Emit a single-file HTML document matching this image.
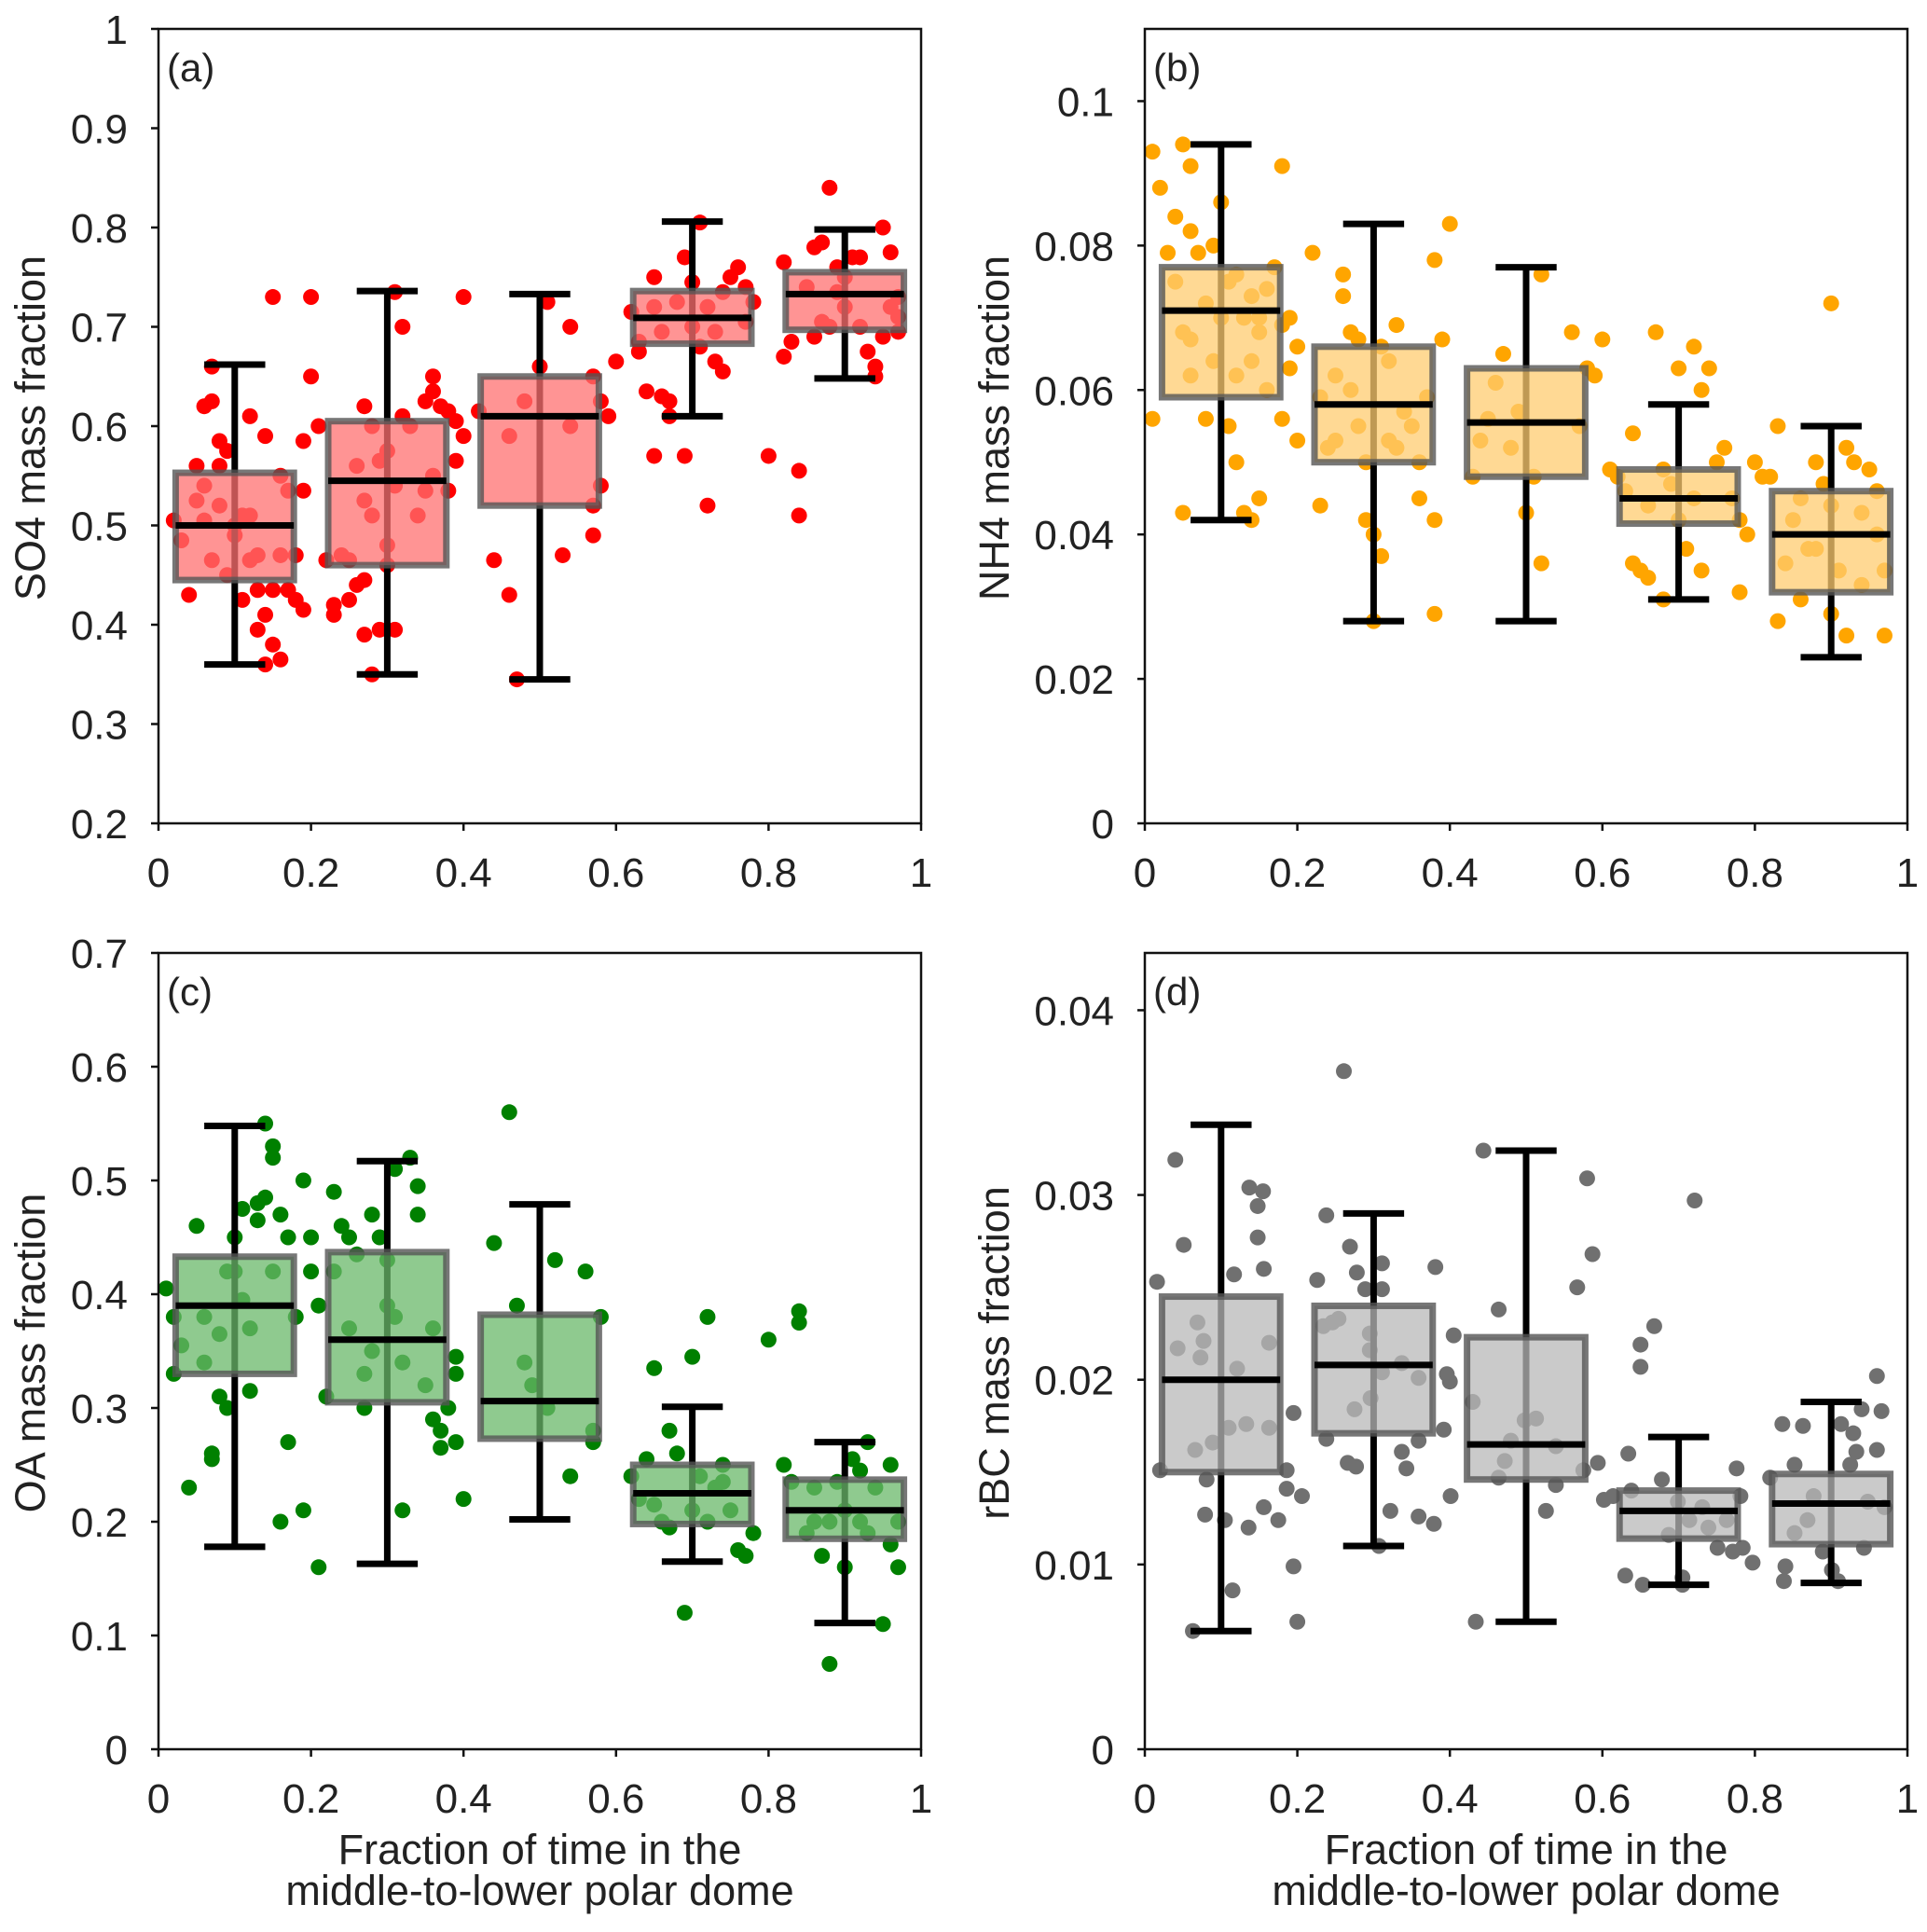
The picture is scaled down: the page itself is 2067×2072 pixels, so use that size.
<!DOCTYPE html>
<html><head><meta charset="utf-8"><style>
html,body{margin:0;padding:0;background:#fff}
svg{display:block;font-family:"Liberation Sans",Arial,sans-serif}
</style></head><body>
<svg id="fig" width="2067" height="2072" viewBox="0 0 2067 2072" xmlns="http://www.w3.org/2000/svg"></svg>
<script>
const xTicks=[0,0.2,0.4,0.6,0.8,1];
const xTickLabels=["0","0.2","0.4","0.6","0.8","1"];
const centers=[0.1,0.3,0.5,0.7,0.9];
// box stats: [q1, median, q3, whiskerLow, whiskerHigh]
const statsA=[[0.445,0.5,0.553,0.36,0.662],[0.46,0.545,0.605,0.35,0.736],[0.52,0.61,0.65,0.345,0.733],[0.683,0.709,0.736,0.61,0.806],[0.697,0.733,0.755,0.648,0.798]];
const statsB=[[0.059,0.071,0.077,0.042,0.094],[0.050,0.058,0.066,0.028,0.083],[0.048,0.0555,0.063,0.028,0.077],[0.0415,0.045,0.049,0.031,0.058],[0.032,0.040,0.046,0.023,0.055]];
const statsC=[[0.33,0.39,0.433,0.178,0.548],[0.305,0.36,0.437,0.163,0.517],[0.273,0.306,0.382,0.202,0.479],[0.198,0.225,0.25,0.165,0.301],[0.185,0.21,0.237,0.111,0.27]];
const statsD=[[0.015,0.020,0.0245,0.0064,0.0338],[0.0171,0.0208,0.024,0.011,0.029],[0.0146,0.0165,0.0223,0.0069,0.0324],[0.0114,0.0129,0.014,0.0089,0.0169],[0.0111,0.0133,0.0149,0.009,0.0188]];
const pointsA=[[0.02,0.505],[0.03,0.485],[0.04,0.43],[0.05,0.56],[0.06,0.62],[0.07,0.625],[0.07,0.66],[0.08,0.585],[0.09,0.575],[0.08,0.52],[0.06,0.54],[0.1,0.49],[0.09,0.45],[0.11,0.425],[0.12,0.61],[0.12,0.51],[0.13,0.435],[0.13,0.395],[0.14,0.41],[0.15,0.38],[0.14,0.36],[0.16,0.365],[0.15,0.435],[0.17,0.435],[0.14,0.59],[0.16,0.55],[0.17,0.535],[0.18,0.47],[0.19,0.585],[0.2,0.65],[0.21,0.6],[0.18,0.425],[0.19,0.415],[0.15,0.73],[0.2,0.73],[0.12,0.465],[0.1,0.5],[0.07,0.465],[0.19,0.535],[0.16,0.47],[0.13,0.47],[0.11,0.51],[0.05,0.525],[0.06,0.505],[0.08,0.56],
[0.22,0.465],[0.23,0.42],[0.23,0.41],[0.24,0.47],[0.25,0.465],[0.25,0.425],[0.26,0.44],[0.27,0.445],[0.27,0.39],[0.28,0.35],[0.29,0.395],[0.31,0.395],[0.27,0.62],[0.28,0.6],[0.29,0.565],[0.3,0.575],[0.27,0.525],[0.28,0.51],[0.3,0.48],[0.31,0.54],[0.32,0.61],[0.33,0.6],[0.34,0.51],[0.32,0.7],[0.31,0.735],[0.35,0.625],[0.36,0.65],[0.36,0.635],[0.37,0.62],[0.38,0.615],[0.39,0.605],[0.4,0.59],[0.39,0.565],[0.38,0.535],[0.36,0.55],[0.35,0.535],[0.4,0.73],[0.26,0.56],[0.3,0.46],
[0.42,0.615],[0.44,0.465],[0.46,0.43],[0.46,0.59],[0.48,0.625],[0.47,0.345],[0.5,0.66],[0.51,0.725],[0.53,0.47],[0.54,0.7],[0.54,0.6],[0.57,0.65],[0.58,0.625],[0.59,0.61],[0.58,0.54],[0.57,0.52],[0.57,0.49],[0.6,0.665],
[0.62,0.715],[0.63,0.685],[0.63,0.675],[0.64,0.635],[0.65,0.75],[0.65,0.72],[0.66,0.63],[0.66,0.695],[0.67,0.61],[0.67,0.625],[0.65,0.57],[0.69,0.57],[0.68,0.725],[0.69,0.77],[0.7,0.745],[0.7,0.7],[0.71,0.805],[0.72,0.72],[0.72,0.52],[0.73,0.665],[0.74,0.655],[0.74,0.735],[0.75,0.75],[0.76,0.76],[0.77,0.74],[0.77,0.705],[0.78,0.725],[0.8,0.57],[0.73,0.695],[0.71,0.68],
[0.82,0.765],[0.82,0.67],[0.83,0.685],[0.84,0.555],[0.84,0.51],[0.85,0.74],[0.86,0.78],[0.87,0.785],[0.88,0.84],[0.89,0.76],[0.86,0.69],[0.87,0.705],[0.88,0.7],[0.9,0.72],[0.91,0.77],[0.92,0.77],[0.93,0.675],[0.94,0.65],[0.94,0.66],[0.95,0.8],[0.96,0.775],[0.96,0.72],[0.95,0.69],[0.97,0.695],[0.97,0.71],[0.97,0.73],[0.9,0.75],[0.92,0.7],[0.89,0.735]];
const pointsB=[[0.01,0.093],[0.02,0.088],[0.01,0.056],[0.03,0.079],[0.04,0.084],[0.04,0.075],[0.05,0.094],[0.06,0.091],[0.06,0.082],[0.07,0.079],[0.05,0.068],[0.06,0.067],[0.08,0.072],[0.09,0.08],[0.1,0.086],[0.11,0.075],[0.12,0.076],[0.13,0.07],[0.14,0.073],[0.15,0.07],[0.16,0.074],[0.14,0.064],[0.12,0.062],[0.15,0.068],[0.18,0.069],[0.19,0.07],[0.2,0.066],[0.19,0.063],[0.18,0.056],[0.16,0.06],[0.15,0.045],[0.13,0.043],[0.12,0.05],[0.11,0.055],[0.08,0.056],[0.05,0.043],[0.06,0.062],[0.09,0.064],[0.1,0.07],[0.17,0.077],[0.18,0.091],[0.2,0.053],[0.14,0.042],
[0.22,0.079],[0.23,0.059],[0.24,0.052],[0.25,0.062],[0.26,0.076],[0.26,0.073],[0.27,0.068],[0.28,0.067],[0.27,0.06],[0.28,0.055],[0.29,0.042],[0.3,0.04],[0.3,0.028],[0.31,0.037],[0.32,0.053],[0.32,0.064],[0.33,0.069],[0.34,0.057],[0.35,0.055],[0.36,0.05],[0.37,0.059],[0.36,0.045],[0.38,0.042],[0.38,0.078],[0.39,0.067],[0.4,0.083],[0.38,0.029],[0.23,0.044],[0.31,0.066],[0.33,0.052],[0.25,0.053],[0.29,0.05],
[0.43,0.048],[0.44,0.053],[0.45,0.056],[0.46,0.061],[0.47,0.065],[0.49,0.057],[0.5,0.043],[0.51,0.048],[0.52,0.076],[0.52,0.036],[0.56,0.068],[0.57,0.055],[0.58,0.063],[0.59,0.062],[0.6,0.067],[0.61,0.049],[0.48,0.052],
[0.62,0.048],[0.63,0.046],[0.64,0.054],[0.64,0.036],[0.65,0.035],[0.66,0.044],[0.66,0.034],[0.67,0.068],[0.68,0.031],[0.69,0.047],[0.7,0.063],[0.7,0.042],[0.71,0.038],[0.72,0.066],[0.73,0.06],[0.74,0.063],[0.73,0.035],[0.75,0.05],[0.76,0.052],[0.77,0.045],[0.78,0.042],[0.78,0.032],[0.79,0.04],[0.8,0.05],[0.81,0.048],[0.68,0.049],[0.72,0.045],
[0.82,0.048],[0.83,0.028],[0.83,0.055],[0.84,0.036],[0.85,0.042],[0.86,0.045],[0.86,0.031],[0.87,0.038],[0.88,0.05],[0.89,0.047],[0.9,0.044],[0.9,0.029],[0.91,0.035],[0.92,0.026],[0.93,0.05],[0.94,0.043],[0.94,0.033],[0.95,0.049],[0.96,0.04],[0.97,0.026],[0.97,0.035],[0.96,0.046],[0.92,0.052],[0.9,0.072],[0.88,0.038]];
const pointsC=[[0.01,0.405],[0.02,0.38],[0.02,0.33],[0.03,0.355],[0.04,0.23],[0.05,0.46],[0.06,0.38],[0.06,0.34],[0.07,0.26],[0.07,0.255],[0.08,0.365],[0.08,0.31],[0.09,0.3],[0.09,0.42],[0.1,0.45],[0.1,0.42],[0.11,0.475],[0.11,0.395],[0.12,0.315],[0.12,0.37],[0.13,0.48],[0.13,0.465],[0.14,0.485],[0.14,0.55],[0.15,0.53],[0.15,0.42],[0.16,0.47],[0.16,0.2],[0.17,0.27],[0.17,0.45],[0.18,0.38],[0.19,0.5],[0.2,0.42],[0.19,0.21],[0.21,0.39],[0.2,0.45],[0.15,0.52],
[0.21,0.16],[0.22,0.31],[0.23,0.42],[0.23,0.49],[0.24,0.46],[0.25,0.45],[0.25,0.37],[0.26,0.435],[0.27,0.33],[0.27,0.3],[0.28,0.47],[0.29,0.45],[0.3,0.43],[0.3,0.39],[0.31,0.51],[0.32,0.34],[0.32,0.21],[0.33,0.52],[0.34,0.495],[0.34,0.47],[0.35,0.32],[0.36,0.29],[0.37,0.28],[0.37,0.265],[0.38,0.3],[0.39,0.27],[0.39,0.33],[0.4,0.22],[0.39,0.345],[0.36,0.37],[0.31,0.38],[0.28,0.35],
[0.44,0.445],[0.46,0.56],[0.47,0.39],[0.48,0.34],[0.49,0.32],[0.52,0.43],[0.54,0.24],[0.56,0.42],[0.57,0.28],[0.58,0.38],[0.57,0.27],[0.51,0.3],
[0.62,0.24],[0.63,0.22],[0.64,0.255],[0.65,0.215],[0.65,0.335],[0.66,0.2],[0.67,0.28],[0.68,0.26],[0.69,0.12],[0.7,0.345],[0.7,0.21],[0.71,0.24],[0.72,0.38],[0.72,0.2],[0.73,0.23],[0.74,0.235],[0.75,0.21],[0.76,0.175],[0.77,0.17],[0.78,0.19],[0.8,0.36],[0.67,0.195],[0.74,0.25],
[0.82,0.25],[0.83,0.235],[0.84,0.385],[0.84,0.375],[0.85,0.19],[0.86,0.23],[0.87,0.17],[0.88,0.075],[0.88,0.2],[0.89,0.235],[0.9,0.16],[0.9,0.21],[0.91,0.255],[0.92,0.245],[0.93,0.27],[0.93,0.19],[0.94,0.23],[0.95,0.11],[0.96,0.18],[0.96,0.25],[0.97,0.2],[0.97,0.16],[0.86,0.2],[0.92,0.2]];
const pointsD=[[0.016,0.0253],[0.04,0.0319],[0.051,0.0273],[0.043,0.0217],[0.02,0.0151],[0.063,0.0064],[0.069,0.0231],[0.077,0.0221],[0.079,0.0127],[0.081,0.0146],[0.089,0.0166],[0.066,0.0162],[0.105,0.0124],[0.11,0.0174],[0.115,0.0086],[0.121,0.0206],[0.133,0.0176],[0.137,0.0304],[0.155,0.0302],[0.148,0.0277],[0.148,0.0294],[0.156,0.026],[0.136,0.012],[0.156,0.0131],[0.163,0.0174],[0.163,0.022],[0.175,0.0124],[0.186,0.0151],[0.186,0.0141],[0.195,0.0182],[0.206,0.0137],[0.195,0.0099],[0.2,0.0069],[0.117,0.0257],[0.073,0.0212],
[0.226,0.0254],[0.238,0.0289],[0.234,0.0229],[0.238,0.0168],[0.246,0.0231],[0.254,0.0233],[0.261,0.0367],[0.269,0.0272],[0.278,0.0258],[0.266,0.0155],[0.277,0.0153],[0.275,0.0184],[0.295,0.0225],[0.296,0.019],[0.295,0.0216],[0.289,0.0249],[0.311,0.0263],[0.311,0.0249],[0.311,0.0204],[0.307,0.011],[0.322,0.0129],[0.337,0.0161],[0.337,0.0209],[0.343,0.0152],[0.359,0.0167],[0.359,0.0201],[0.359,0.0126],[0.379,0.0122],[0.381,0.0261],[0.392,0.0173],[0.396,0.0203],[0.4,0.0199],[0.405,0.0224],[0.401,0.0137],
[0.43,0.0188],[0.444,0.0324],[0.434,0.0069],[0.464,0.0238],[0.464,0.0147],[0.472,0.0156],[0.48,0.0167],[0.498,0.0178],[0.513,0.0179],[0.526,0.0129],[0.539,0.0143],[0.539,0.0164],[0.567,0.025],[0.58,0.0309],[0.587,0.0268],[0.575,0.0151],[0.594,0.0155],[0.602,0.0135],
[0.614,0.0137],[0.63,0.0094],[0.634,0.016],[0.638,0.014],[0.65,0.0219],[0.65,0.0207],[0.653,0.0089],[0.668,0.0229],[0.678,0.0146],[0.687,0.0116],[0.699,0.0134],[0.705,0.0093],[0.705,0.0089],[0.721,0.0297],[0.714,0.0124],[0.731,0.0131],[0.739,0.012],[0.751,0.0109],[0.763,0.0124],[0.776,0.0152],[0.781,0.0137],[0.784,0.0109],[0.797,0.0101],[0.771,0.0107],
[0.82,0.0147],[0.836,0.0176],[0.84,0.0099],[0.838,0.0091],[0.863,0.0175],[0.852,0.0154],[0.869,0.0124],[0.877,0.0137],[0.889,0.0107],[0.901,0.0097],[0.913,0.0176],[0.925,0.0154],[0.929,0.0171],[0.933,0.0161],[0.943,0.0109],[0.948,0.0134],[0.96,0.0162],[0.96,0.0202],[0.966,0.0183],[0.97,0.0131],[0.94,0.0184],[0.909,0.0091],[0.852,0.0117]];
const yTicksA=[0.2,0.3,0.4,0.5,0.6,0.7,0.8,0.9,1], yLabelsA=["0.2","0.3","0.4","0.5","0.6","0.7","0.8","0.9","1"];
const yTicksB=[0,0.02,0.04,0.06,0.08,0.1], yLabelsB=["0","0.02","0.04","0.06","0.08","0.1"];
const yTicksC=[0,0.1,0.2,0.3,0.4,0.5,0.6,0.7], yLabelsC=["0","0.1","0.2","0.3","0.4","0.5","0.6","0.7"];
const yTicksD=[0,0.01,0.02,0.03,0.04], yLabelsD=["0","0.01","0.02","0.03","0.04"];

const NS="http://www.w3.org/2000/svg";
const svg=document.getElementById('fig');
function mk(tag,attrs,parent){const e=document.createElementNS(NS,tag);for(const k in attrs)e.setAttribute(k,attrs[k]);(parent||svg).appendChild(e);return e;}

function panel(cfg){
  const g=mk('g',{});
  
  
  const L=cfg.L,R=cfg.R,T=cfg.T,B=cfg.B;
  const sx=v=>L+(R-L)*v;
  const sy=v=>B-(B-T)*(v-cfg.ymin)/(cfg.ymax-cfg.ymin);
  cfg.points.forEach(p=>{
    const c=mk('circle',{cx:sx(p[0]),cy:sy(p[1]),r:8.5,fill:cfg.pc},g);
    
    
  });
  const bw=0.155, cw=0.08;
  cfg.stats.forEach((s,i)=>{
    const cx=centers[i];
    const w1=mk('line',{x1:sx(cx),x2:sx(cx),y1:sy(s[3]),y2:sy(s[4]),stroke:'#000','stroke-width':7},g);
    
    
    const rect=mk('rect',{x:sx(cx-bw/2),y:sy(s[2]),width:sx(cx+bw/2)-sx(cx-bw/2),height:sy(s[0])-sy(s[2]),fill:cfg.bf,'fill-opacity':0.75,stroke:'#555','stroke-opacity':0.8,'stroke-width':7},g);
    
    
    const m=mk('line',{x1:sx(cx-bw/2),x2:sx(cx+bw/2),y1:sy(s[1]),y2:sy(s[1]),stroke:'#000','stroke-width':7},g);
    
    
    [s[3],s[4]].forEach(v=>{
      const cap=mk('line',{x1:sx(cx-cw/2),x2:sx(cx+cw/2),y1:sy(v),y2:sy(v),stroke:'#000','stroke-width':7},g);
      
      
    });
  });
  const fr=mk('rect',{x:L,y:T,width:R-L,height:B-T,fill:'none',stroke:'#111','stroke-width':2.5},g);
  
  
  xTicks.forEach((v,i)=>{
    mk('line',{x1:sx(v),x2:sx(v),y1:B,y2:B+8,stroke:'#111','stroke-width':2.5},g);
    const t=mk('text',{x:sx(v),y:B+68,'font-size':44,'text-anchor':'middle',fill:'#222'},g);
    t.textContent=xTickLabels[i];
    
    
  });
  cfg.yt.forEach((v,i)=>{
    mk('line',{x1:L-8,x2:L,y1:sy(v),y2:sy(v),stroke:'#111','stroke-width':2.5},g);
    const t=mk('text',{x:L-33,y:sy(v)+16,'font-size':44,'text-anchor':'end',fill:'#222'},g);
    t.textContent=cfg.yl[i];
    
    
  });
  const lab=mk('text',{x:L+9,y:T+56,'font-size':42,fill:'#222'},g);
  lab.textContent=cfg.tag;
  
  
  const yc=(T+B)/2+2;
  const yt=mk('text',{x:cfg.ylx,y:yc,'font-size':45,'text-anchor':'middle',fill:'#222',transform:`rotate(-90 ${cfg.ylx} ${yc})`},g);
  yt.textContent=cfg.ytitle;
  
  
  if(cfg.xt){
    const xc=(L+R)/2;
    const a=mk('text',{x:xc,y:1999,'font-size':45,'text-anchor':'middle',fill:'#222'},g);
    a.textContent='Fraction of time in the';
    
    
    const b=mk('text',{x:xc,y:2043,'font-size':45,'text-anchor':'middle',fill:'#222'},g);
    b.textContent='middle-to-lower polar dome';
    
    
  }
}
panel({name:'panel-a-so4',L:170,R:988,T:31,B:883,ymin:0.2,ymax:1,points:pointsA,stats:statsA,pc:'#ff0000',bf:'#ff7070',yt:yTicksA,yl:yLabelsA,tag:'(a)',ytitle:'SO4 mass fraction',ylx:48,xt:false});
panel({name:'panel-b-nh4',L:1228,R:2046,T:31,B:883,ymin:0,ymax:0.11,points:pointsB,stats:statsB,pc:'#ffa500',bf:'#ffcc70',yt:yTicksB,yl:yLabelsB,tag:'(b)',ytitle:'NH4 mass fraction',ylx:1082,xt:false});
panel({name:'panel-c-oa',L:170,R:988,T:1022,B:1876,ymin:0,ymax:0.7,points:pointsC,stats:statsC,pc:'#008000',bf:'#6ab86a',yt:yTicksC,yl:yLabelsC,tag:'(c)',ytitle:'OA mass fraction',ylx:48,xt:true});
panel({name:'panel-d-rbc',L:1228,R:2046,T:1022,B:1876,ymin:0,ymax:0.0431,points:pointsD,stats:statsD,pc:'#707070',bf:'#b8b8b8',yt:yTicksD,yl:yLabelsD,tag:'(d)',ytitle:'rBC mass fraction',ylx:1082,xt:true});
</script>
</body></html>
